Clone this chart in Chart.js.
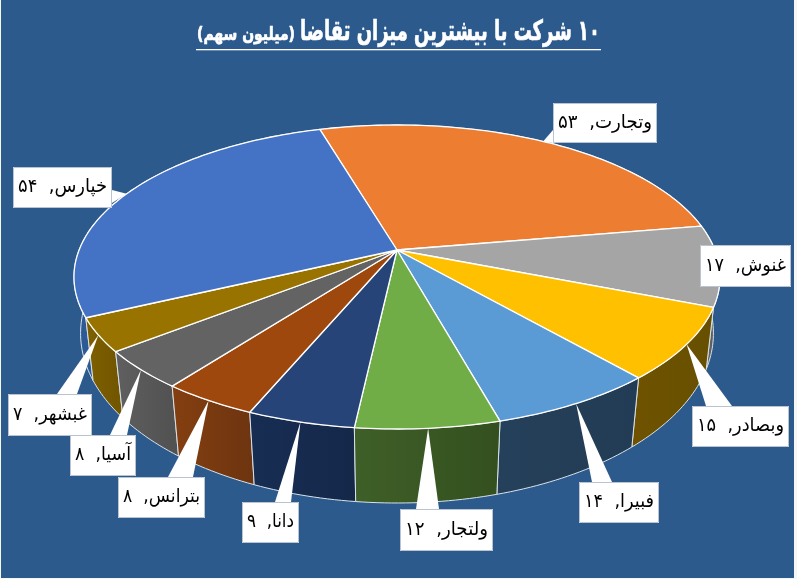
<!DOCTYPE html>
<html lang="fa">
<head>
<meta charset="utf-8">
<title>10 شرکت با بیشترین میزان تقاضا</title>
<script src="https://cdn.jsdelivr.net/npm/chart.js@4"></script>
<style>
  html, body { margin: 0; padding: 0; background: #f6f6f6; }
  canvas { display: block; }
</style>
</head>
<body>
<canvas id="pie3d" width="797" height="579" dir="rtl"></canvas>
<script>
const chartTitle = '۱۰ شرکت با بیشترین میزان تقاضا';
const chartUnit = '(میلیون سهم)';

const companies = ['وتجارت', 'غنوش', 'وبصادر', 'فبیرا', 'ولتجار', 'دانا', 'بترانس', 'آسیا', 'غبشهر', 'خپارس'];
const demand = [53, 17, 15, 14, 12, 9, 8, 8, 7, 54];

const topColors = ['#ED7D31', '#A5A5A5', '#FFC000', '#5B9BD5', '#70AD47', '#264478', '#9E480E', '#636363', '#997300', '#4472C4'];
const wallColors = [
  ['#8a4a1d', '#8a4a1d'], ['#6e6e6e', '#5c5c5c'], ['#6e5200', '#665000'], ['#25405a', '#233c55'], ['#3f5f28', '#33501e'],
  ['#172d52', '#14284a'], ['#843f10', '#6e3510'], ['#5f5f5f', '#525252'], ['#7f6000', '#735700'], ['#2c5a96', '#2c5a96'],
];

// label box: left, top, right, bottom and the side the callout leaves from
const boxes = [
  { l: 553, t: 103, r: 657, b: 143, base: [[553, 130], [553, 143]] },
  { l: 700, t: 245, r: 791, b: 287, base: [[700, 262], [700, 274]] },
  { l: 692, t: 406, r: 789, b: 447, base: [[706, 406], [732, 406]] },
  { l: 579, t: 482, r: 659, b: 523, base: [[592, 482], [612, 482]] },
  { l: 400, t: 509, r: 493, b: 551, base: [[416, 509], [439, 509]] },
  { l: 242, t: 502, r: 299, b: 543, base: [[275, 502], [291, 502]] },
  { l: 118, t: 477, r: 205, b: 518, base: [[168, 477], [193, 477]] },
  { l: 70, t: 435, r: 136, b: 476, base: [[110, 435], [127, 435]] },
  { l: 8, t: 394, r: 92, b: 436, base: [[57, 394], [77, 394]] },
  { l: 13, t: 167, r: 112, b: 208, base: [[112, 190], [112, 203]] },
];

// perspective of the disc, top face and bottom face
const topFace = { cx: 397, cy: 250, w: 317.9, h: 147.2, p: 0.1776 };
const bottomFace = { cx: 397, cy: 305, w: 312, h: 165, p: 1 / 6 };

function project(face, angle) {
  const x = Math.cos(angle);
  const y = Math.sin(angle);
  const d = 1 - face.p * y;
  return [face.cx + face.w * x / d, face.cy + face.h * y / d];
}

function faDigits(n) {
  return String(n).replace(/\d/g, (d) => '۰۱۲۳۴۵۶۷۸۹'[d]);
}

function traceArc(ctx, face, a0, a1, first) {
  const steps = Math.max(2, Math.ceil(Math.abs(a1 - a0) / 0.02));
  for (let s = 0; s <= steps; s++) {
    const pt = project(face, a0 + (a1 - a0) * s / steps);
    if (s === 0 && first) ctx.moveTo(pt[0], pt[1]);
    else ctx.lineTo(pt[0], pt[1]);
  }
}

function drawWalls(ctx, arcs) {
  // far slices first so the near ones cover them
  const order = arcs.map((arc, i) => i)
    .sort((a, b) => Math.sin((arcs[a].startAngle + arcs[a].endAngle) / 2) - Math.sin((arcs[b].startAngle + arcs[b].endAngle) / 2));
  order.forEach((i) => {
    const { startAngle, endAngle } = arcs[i];
    const p0 = project(topFace, startAngle);
    const p1 = project(topFace, endAngle);
    const grad = ctx.createLinearGradient(Math.min(p0[0], p1[0]), 0, Math.max(p0[0], p1[0]), 0);
    grad.addColorStop(0, wallColors[i][0]);
    grad.addColorStop(1, wallColors[i][1]);
    ctx.beginPath();
    traceArc(ctx, topFace, startAngle, endAngle, true);
    traceArc(ctx, bottomFace, endAngle, startAngle, false);
    ctx.closePath();
    ctx.fillStyle = grad;
    ctx.fill();
    ctx.strokeStyle = '#d9e2ea';
    ctx.lineWidth = 1;
    ctx.stroke();
  });
}

function drawTop(ctx, arcs) {
  arcs.forEach((arc, i) => {
    ctx.beginPath();
    ctx.moveTo(topFace.cx, topFace.cy);
    traceArc(ctx, topFace, arc.startAngle, arc.endAngle, false);
    ctx.closePath();
    ctx.fillStyle = topColors[i];
    ctx.fill();
    ctx.strokeStyle = '#ffffff';
    ctx.lineWidth = 1.3;
    ctx.lineJoin = 'round';
    ctx.stroke();
  });
}

function drawLabels(ctx, arcs) {
  arcs.forEach((arc, i) => {
    const box = boxes[i];
    const tip = project(topFace, (arc.startAngle + arc.endAngle) / 2);
    ctx.fillStyle = '#ffffff';
    ctx.beginPath();
    ctx.moveTo(tip[0], tip[1]);
    ctx.lineTo(box.base[0][0], box.base[0][1]);
    ctx.lineTo(box.base[1][0], box.base[1][1]);
    ctx.closePath();
    ctx.fill();
    ctx.fillRect(box.l, box.t, box.r - box.l, box.b - box.t);
    ctx.strokeStyle = '#b9c4d0';
    ctx.lineWidth = 1;
    ctx.strokeRect(box.l + 0.5, box.t + 0.5, box.r - box.l - 1, box.b - box.t - 1);

    ctx.fillStyle = '#000000';
    ctx.font = '19px "DejaVu Sans"';
    ctx.textAlign = 'center';
    ctx.textBaseline = 'middle';
    ctx.fillText(companies[i] + ',  ' + faDigits(demand[i]), (box.l + box.r) / 2, (box.t + box.b) / 2, box.r - box.l - 10);
  });
}

function drawHeading(ctx) {
  ctx.fillStyle = '#ffffff';
  ctx.strokeStyle = '#ffffff';
  ctx.lineWidth = 0.7;
  ctx.textBaseline = 'alphabetic';
  ctx.textAlign = 'right';
  ctx.font = 'bold 28px "DejaVu Sans"';
  ctx.fillText(chartTitle, 600, 40, 300);
  ctx.strokeText(chartTitle, 600, 40, 300);
  ctx.font = 'bold 18px "DejaVu Sans"';
  ctx.fillText(chartUnit, 295, 40, 98);
  ctx.strokeText(chartUnit, 295, 40, 98);
  ctx.fillRect(196, 49, 405, 1.3);
}

const pie3d = {
  id: 'pie3d',
  beforeDraw(chart) {
    const { ctx } = chart;
    ctx.fillStyle = '#2C5A8C';
    ctx.fillRect(1, 0, 793, 578);
  },
  beforeDatasetsDraw(chart) {
    const { ctx } = chart;
    const arcs = chart.getDatasetMeta(0).data;
    ctx.save();
    drawWalls(ctx, arcs);
    drawTop(ctx, arcs);
    drawLabels(ctx, arcs);
    drawHeading(ctx);
    ctx.restore();
    return false;
  },
};

new Chart(document.getElementById('pie3d'), {
  type: 'pie',
  data: {
    labels: companies,
    datasets: [
      {
        data: demand,
        backgroundColor: topColors,
      },
    ],
  },
  options: {
    responsive: false,
    animation: false,
    rotation: -16.5,
    plugins: {
      legend: { display: false },
      tooltip: { enabled: false },
    },
  },
  plugins: [pie3d],
});
</script>
</body>
</html>
